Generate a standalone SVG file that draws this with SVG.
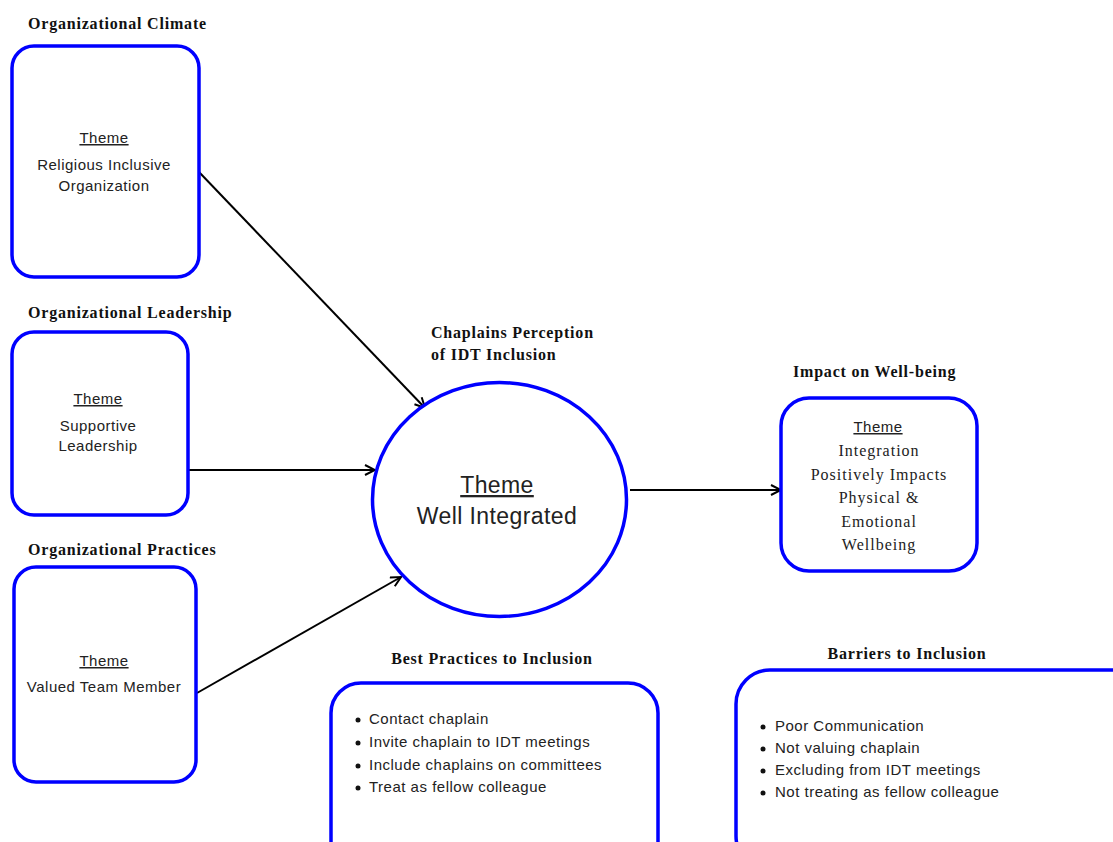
<svg xmlns="http://www.w3.org/2000/svg" width="1113" height="842" viewBox="0 0 1113 842">
<style>
.box{fill:#fff;stroke:#0000ff;stroke-width:3.5}
.hd{font-family:"Liberation Serif",serif;font-weight:bold;font-size:16px;letter-spacing:0.8px;fill:#111}
.tx{font-family:"Liberation Sans",sans-serif;font-size:15px;letter-spacing:0.5px;fill:#222}
.big{font-size:23px;letter-spacing:0.4px}
.sf{font-family:"Liberation Serif",serif;font-size:16px;letter-spacing:1px;fill:#222}
.ul{text-decoration:underline}
.c{text-anchor:middle}
.conn{stroke:#000;stroke-width:2;fill:none}
</style>
<defs>
<marker id="arr" viewBox="0 0 12 12" refX="11" refY="6" markerWidth="12" markerHeight="12" markerUnits="userSpaceOnUse" orient="auto">
<path d="M1,1 L11,6 L1,11" fill="none" stroke="#000" stroke-width="2"/>
</marker>
</defs>
<rect width="1113" height="842" fill="#fff"/>

<g id="connectors">
<line class="conn" x1="199" y1="172" x2="425" y2="408" marker-end="url(#arr)"/>
<line class="conn" x1="188" y1="470" x2="375" y2="470" marker-end="url(#arr)"/>
<line class="conn" x1="197" y1="693" x2="401" y2="577" marker-end="url(#arr)"/>
<line class="conn" x1="630" y1="490" x2="781" y2="490" marker-end="url(#arr)"/>
</g>

<g id="climate">
<text class="hd" x="28" y="29">Organizational Climate</text>
<rect class="box" x="12" y="46" width="187" height="231" rx="22"/>
<text class="tx c ul" x="104" y="143">Theme</text>
<text class="tx c" x="104" y="170">Religious Inclusive</text>
<text class="tx c" x="104" y="191">Organization</text>
</g>

<g id="leadership">
<text class="hd" x="28" y="318">Organizational Leadership</text>
<rect class="box" x="12" y="332" width="176" height="183" rx="22"/>
<text class="tx c ul" x="98" y="404">Theme</text>
<text class="tx c" x="98" y="431">Supportive</text>
<text class="tx c" x="98" y="451">Leadership</text>
</g>

<g id="practices">
<text class="hd" x="28" y="555">Organizational Practices</text>
<rect class="box" x="14" y="567" width="182" height="215" rx="22"/>
<text class="tx c ul" x="104" y="666">Theme</text>
<text class="tx c" x="104" y="692">Valued Team Member</text>
</g>

<g id="perception">
<text class="hd" x="431" y="338">Chaplains Perception</text>
<text class="hd" x="431" y="360">of IDT  Inclusion</text>
<ellipse class="box" cx="499.5" cy="499.5" rx="127" ry="117"/>
<text class="tx big c ul" x="497" y="493">Theme</text>
<text class="tx big c" x="497" y="524">Well Integrated</text>
</g>

<g id="impact">
<text class="hd" x="793" y="377">Impact on Well-being</text>
<rect class="box" x="781" y="398" width="196" height="173" rx="28"/>
<text class="tx c ul" x="878" y="432">Theme</text>
<text class="sf c" x="879" y="456">Integration</text>
<text class="sf c" x="879" y="480">Positively Impacts</text>
<text class="sf c" x="879" y="503">Physical &amp;</text>
<text class="sf c" x="879" y="527">Emotional</text>
<text class="sf c" x="879" y="550">Wellbeing</text>
</g>

<g id="best">
<text class="hd c" x="492" y="664">Best Practices to Inclusion</text>
<rect class="box" x="331" y="683" width="327" height="190" rx="30"/>
<g class="tx">
<circle cx="358" cy="720" r="2.5" fill="#111"/><text x="369" y="724">Contact chaplain</text>
<circle cx="358" cy="743" r="2.5" fill="#111"/><text x="369" y="747">Invite chaplain to IDT meetings</text>
<circle cx="358" cy="766" r="2.5" fill="#111"/><text x="369" y="770">Include chaplains on committees</text>
<circle cx="358" cy="788" r="2.5" fill="#111"/><text x="369" y="792">Treat as fellow colleague</text>
</g>
</g>

<g id="barriers">
<text class="hd c" x="907" y="659">Barriers to Inclusion</text>
<rect class="box" x="736" y="670" width="420" height="200" rx="34"/>
<g class="tx">
<circle cx="763" cy="727" r="2.5" fill="#111"/><text x="775" y="731">Poor Communication</text>
<circle cx="763" cy="749" r="2.5" fill="#111"/><text x="775" y="753">Not valuing chaplain</text>
<circle cx="763" cy="771" r="2.5" fill="#111"/><text x="775" y="775">Excluding from IDT meetings</text>
<circle cx="763" cy="793" r="2.5" fill="#111"/><text x="775" y="797">Not treating as fellow colleague</text>
</g>
</g>
</svg>
